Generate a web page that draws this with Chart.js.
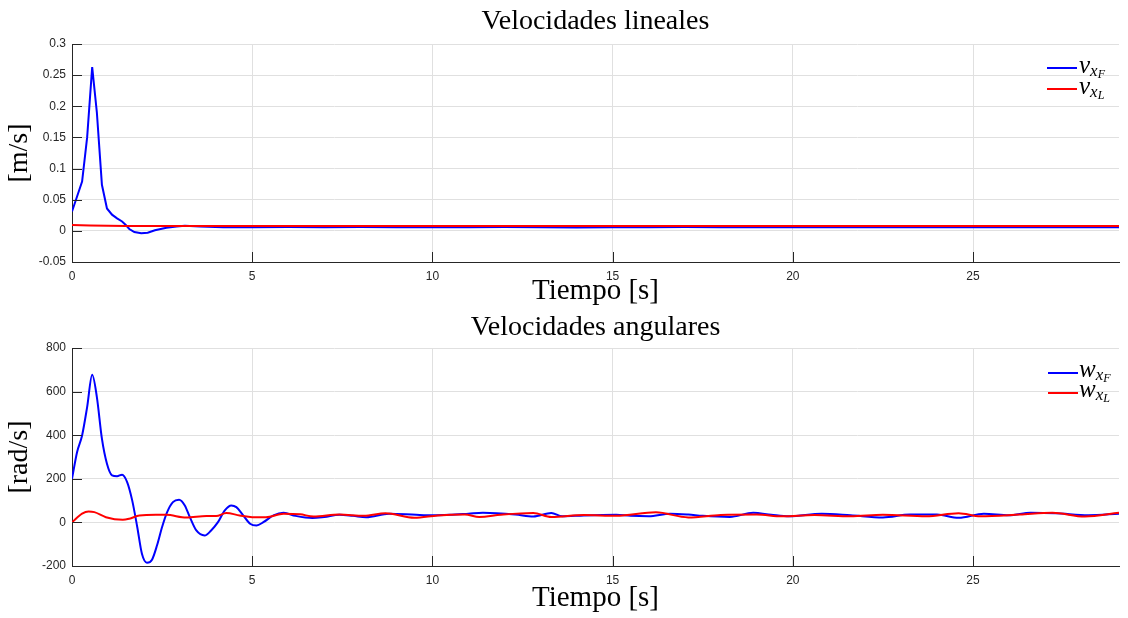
<!DOCTYPE html>
<html><head><meta charset="utf-8">
<script src="https://cdn.jsdelivr.net/npm/chart.js@4/dist/chart.umd.min.js"></script>
<style>
html,body{margin:0;padding:0;background:#fff;}
#wrap{position:relative;width:1128px;height:618px;overflow:hidden;background:#fff;}
.cv{position:absolute;left:0;width:1128px;height:309px;}
.ln{position:absolute;width:30px;height:2px;}
.lt{position:absolute;font-family:'Liberation Serif',serif;font-style:italic;font-size:25px;line-height:25px;white-space:nowrap;color:#000;}
.s1{font-size:17px;position:relative;top:3px;}
.s2{font-size:12px;position:relative;top:2px;}
</style>
</head><body>
<div id="wrap">
  <div class="cv" style="top:0"><canvas id="c1" width="1128" height="309"></canvas></div>
  <div class="cv" style="top:309px"><canvas id="c2" width="1128" height="309"></canvas></div>
  <div class="ln" style="left:1047px;top:67px;background:#0000ff"></div>
  <div class="lt" style="left:1079px;top:52px"><span>v</span><span class="s1">x<span class="s2">F</span></span></div>
  <div class="ln" style="left:1047px;top:88px;background:#ff0000"></div>
  <div class="lt" style="left:1079px;top:73px"><span>v</span><span class="s1">x<span class="s2">L</span></span></div>
  <div class="ln" style="left:1048px;top:372px;background:#0000ff"></div>
  <div class="lt" style="left:1079px;top:356px"><span>w</span><span class="s1">x<span class="s2">F</span></span></div>
  <div class="ln" style="left:1048px;top:392px;background:#ff0000"></div>
  <div class="lt" style="left:1079px;top:376px"><span>w</span><span class="s1">x<span class="s2">L</span></span></div>
</div>
<script>
// ---- data ----
const tVF = [0,0.28,0.42,0.56,0.69,0.83,0.97,1.11,1.25,1.39,1.5,1.59,1.73,1.92,2.1,2.3,2.62,2.9,3.13,3.55,4.2,5,6,7,8,9,10,11,12,13,14,15,16,17,18,19,20,21,22,23,24,25,26,27,28,29.05];
const vXF = [0.031,0.079,0.15,0.263,0.19,0.074,0.036,0.026,0.02,0.015,0.009,0.003,-0.002,-0.004,-0.003,0.001,0.005,0.007,0.008,0.007,0.0058,0.0057,0.006,0.0057,0.006,0.0056,0.0058,0.0057,0.006,0.0057,0.0055,0.0058,0.0057,0.006,0.0056,0.0058,0.0057,0.0059,0.0056,0.0058,0.0057,0.0059,0.0056,0.0058,0.0057,0.0058];
const tVL = [0,0.5,1,1.5,2,3,4,6,8,10,12,14,16,18,20,22,24,26,28,29.05];
const vXL = [0.0095,0.0088,0.0082,0.0078,0.0076,0.0079,0.0077,0.0078,0.0077,0.0078,0.0077,0.0078,0.0078,0.0077,0.0078,0.0077,0.0078,0.0077,0.0078,0.0078];

const tWF = [0,0.14,0.28,0.42,0.56,0.69,0.83,0.97,1.11,1.25,1.39,1.53,1.67,1.81,1.94,2.08,2.22,2.36,2.5,2.64,2.8,2.97,3.13,3.27,3.45,3.68,3.86,4.05,4.24,4.42,4.56,4.75,4.94,5.12,5.31,5.59,5.87,6.2,6.67,7.0,7.42,7.8,8.16,8.8,9.55,10.0,10.47,11.0,11.4,12.3,12.8,13.3,13.6,14.2,15.1,15.5,16.0,16.6,17.1,17.5,18.25,18.9,19.4,19.9,20.8,21.6,22.5,23.25,24.0,24.6,25.3,26.0,26.6,27.3,28.2,29.05];
const wXF = [200,322,399,529,677,575,384,269,216,212,219,185,101,-21,-144,-185,-171,-105,-21,47,93,104,78,24,-37,-60,-37,1,55,78,70,32,-6,-14,1,32,44,30,20,25,35,30,24,40,35,33,35,40,44,36,27,43,28,32,35,30,28,40,36,30,25,44,35,28,40,33,23,36,36,21,40,33,44,42,33,40];
const tWL = [0,0.28,0.46,0.62,0.94,1.41,1.59,1.87,2.33,2.61,3.17,3.73,4.0,4.28,4.65,5.0,5.38,5.87,6.33,6.7,7.42,8.1,8.7,9.5,10.15,10.9,11.3,11.9,12.8,13.3,14.2,15.1,16.2,17.1,18.0,19.0,19.7,20.6,21.6,22.5,23.7,24.6,25.2,26.3,27.2,28.1,29.05];
const wXL = [0,40,50,47,24,12,17,32,35,35,22,29,29,43,32,24,24,40,37,27,36,30,42,21,32,36,25,35,43,25,34,30,46,23,34,36,28,34,28,35,28,42,28,36,44,27,44];

const xTicksStep = 5;
const xMax = 29.05;

function pts(t, v){ return t.map((x,i)=>({x:x, y:v[i]})); }

const innerTicks = {
  id:'innerTicks',
  afterDatasetsDraw(chart){
    const {ctx, chartArea:a, scales:{x,y}} = chart;
    ctx.save(); ctx.strokeStyle='#262626'; ctx.lineWidth=1; ctx.beginPath();
    x.ticks.forEach(t=>{const px=Math.round(x.getPixelForValue(t.value))+0.5; ctx.moveTo(px,a.bottom); ctx.lineTo(px,a.bottom-10);});
    y.ticks.forEach(t=>{const py=Math.round(y.getPixelForValue(t.value))+0.5; ctx.moveTo(a.left,py); ctx.lineTo(a.left+10,py);});
    ctx.stroke(); ctx.restore();
  }
};

function make(id, o){
  return new Chart(document.getElementById(id), {
    type:'line',
    data:{datasets:[
      {data:pts(o.tb,o.vb), borderColor:'#0000ff', borderWidth:2, pointRadius:0, tension:o.tension, cubicInterpolationMode:o.mode, order:1},
      {data:pts(o.tr,o.vr), borderColor:'#ff0000', borderWidth:2, pointRadius:0, tension:o.tension, cubicInterpolationMode:o.mode, order:0}
    ]},
    options:{
      responsive:false, animation:false, events:[],
      layout:{padding:{left:0,right:9,top:0,bottom:0}},
      plugins:{
        legend:{display:false}, tooltip:{enabled:false},
        title:{display:true, text:o.title, color:'#000', fullSize:false,
          font:{family:'Liberation Serif', size:28, weight:'normal', lineHeight:1},
          padding:o.titlePad}
      },
      scales:{
        x:{type:'linear', min:0, max:xMax,
          afterBuildTicks:s=>{s.ticks=s.ticks.filter(t=>Math.abs(t.value/xTicksStep-Math.round(t.value/xTicksStep))<1e-6);},
          afterFit:s=>{s.height=o.xh;},
          ticks:{stepSize:xTicksStep, padding:7, color:'#262626', font:{family:'Liberation Sans', size:12}, maxRotation:0},
          grid:{color:'#e0e0e0', drawTicks:false},
          border:{color:'#262626'},
          title:{display:true, text:'Tiempo [s]', color:'#000', font:{family:'Liberation Serif', size:29, lineHeight:1}, padding:{top:0,bottom:o.xtPad}}
        },
        y:{min:o.ymin, max:o.ymax,
          afterFit:s=>{s.width=72;},
          ticks:{stepSize:o.ystep, padding:6, color:'#262626', font:{family:'Liberation Sans', size:12},
            callback:v=>String(parseFloat(Number(v).toFixed(4)))},
          grid:{color:'#e0e0e0', drawTicks:false},
          border:{color:'#262626'},
          title:{display:true, text:o.ytitle, color:'#000', font:{family:'Liberation Serif', size:28, lineHeight:1}, padding:{top:6,bottom:0}}
        }
      }
    },
    plugins:[innerTicks]
  });
}

make('c1', {tb:tVF, vb:vXF, tr:tVL, vr:vXL, tension:0, mode:'default',
  title:'Velocidades lineales', titlePad:{top:7.9,bottom:8.1}, xh:47, xtPad:3.5,
  ymin:-0.05, ymax:0.3, ystep:0.05, ytitle:'[m/s]'});
make('c2', {tb:tWF, vb:wXF, tr:tWL, vr:wXL, tension:0.4, mode:'monotone',
  title:'Velocidades angulares', titlePad:{top:4.9,bottom:6.1}, xh:52, xtPad:5,
  ymin:-200, ymax:800, ystep:200, ytitle:'[rad/s]'});
</script>
</body></html>
